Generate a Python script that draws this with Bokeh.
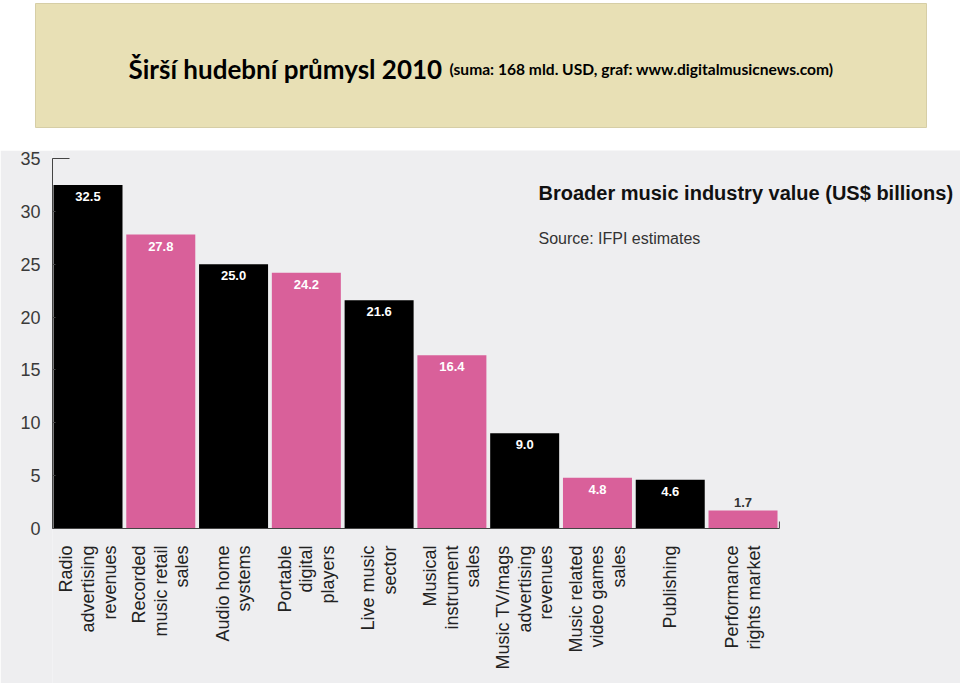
import math
from bokeh.plotting import figure
from bokeh.models import Range1d, FixedTicker, ColumnDataSource
from bokeh.layouts import column
from bokeh.embed import file_html
from bokeh.resources import INLINE
from bokeh.core.properties import value

# ---------------- data ----------------
categories = [
    "Radio\nadvertising\nrevenues",
    "Recorded\nmusic retail\nsales",
    "Audio home\nsystems",
    "Portable\ndigital\nplayers",
    "Live music\nsector",
    "Musical\ninstrument\nsales",
    "Music TV/mags\nadvertising\nrevenues",
    "Music related\nvideo games\nsales",
    "Publishing",
    "Performance\nrights market",
]
values = [32.5, 27.8, 25.0, 24.2, 21.6, 16.4, 9.0, 4.8, 4.6, 1.7]
y_ticks = [0, 5, 10, 15, 20, 25, 30, 35]
palette = ["#000000", "#D9609A"]

title_main = "Širší hudební průmysl 2010"
title_sub = "(suma: 168 mld. USD, graf: www.digitalmusicnews.com)"
chart_title = "Broader music industry value (US$ billions)"
chart_source = "Source: IFPI estimates"

# ---------------- layout constants ----------------
W = 960
H_TOP = 150
H_BOT = 533
LEFT = 52
PX_Y = 370.0 / 35.0          # pixels per unit on y
SLOT = 72.78                 # pixels per category slot
Y_TOP = 35 + 8 / PX_Y
Y_BOT = -(H_BOT - 378) / PX_Y
X_START = -35.5 / SLOT
X_END = X_START + (W - LEFT) / SLOT

def fx(page_x):
    return X_START + (page_x - LEFT) / SLOT

def fy(page_y):
    return Y_TOP - (page_y - H_TOP) / PX_Y

idx = list(range(len(categories)))
colors = [palette[i % 2] for i in idx]

# ---------------- title figure ----------------
BOX_W, BOX_H = 891, 124
t = figure(width=W, height=H_TOP, x_range=Range1d(0, BOX_W), y_range=Range1d(0, BOX_H),
           x_axis_location=None, y_axis_location=None,
           min_border_left=35, min_border_right=W - 35 - BOX_W, min_border_top=3,
           min_border_bottom=H_TOP - 3 - BOX_H,
           output_backend="svg", toolbar_location=None)
t.frame_align = False
t.grid.visible = False
t.background_fill_color = "#E8E0B5"
t.border_fill_color = "#FFFFFF"
t.outline_line_color = "#D6CEA6"
base_y = BOX_H - (68 - 3)
t.text(x=[128 - 35], y=[base_y], text=[title_main], text_font=value("Lato"),
       text_font_style="bold", text_font_size="26px", text_color="#000000",
       text_baseline="alphabetic", text_align="left")
t.text(x=[449 - 35], y=[base_y], text=[title_sub], text_font=value("Lato"),
       text_font_style="bold", text_font_size="15.6px", text_color="#000000",
       text_baseline="alphabetic", text_align="left")

# ---------------- chart figure ----------------
p = figure(width=W, height=H_BOT, x_range=Range1d(X_START, X_END), y_range=Range1d(Y_BOT, Y_TOP),
           x_axis_location=None, min_border_left=LEFT, min_border_right=0,
           min_border_top=0, min_border_bottom=0,
           output_backend="svg", toolbar_location=None)
p.frame_align = False
p.grid.visible = False
p.outline_line_color = None
p.background_fill_color = "#EEEEF0"
p.border_fill_color = "#EEEEF0"

ax = p.yaxis[0]
ax.ticker = FixedTicker(ticks=y_ticks)
ax.bounds = (min(y_ticks), max(y_ticks))
ax.axis_line_color = "#444444"
ax.major_tick_line_color = "#444444"
ax.major_tick_in = 3
ax.major_tick_out = 0
ax.minor_tick_line_color = None
ax.major_label_standoff = 12
ax.major_label_text_font = "Liberation Sans"
ax.major_label_text_font_size = "18px"
ax.major_label_text_color = "#3A3A3A"

# bars
src = ColumnDataSource(dict(x=idx, top=values, color=colors))
p.vbar(x="x", top="top", width=0.948, bottom=0, fill_color="color", line_color=None, source=src)

# axis decorations: baseline, top bracket, end tick
p.segment(x0=[min(idx) - 0.5], y0=[0], x1=[max(idx) + 0.5], y1=[0], line_color="#444444", line_width=1)
p.segment(x0=[max(idx) + 0.5], y0=[0], x1=[max(idx) + 0.5], y1=[7 / PX_Y], line_color="#444444", line_width=1)
p.segment(x0=[X_START], y0=[max(y_ticks)], x1=[X_START + 17 / SLOT], y1=[max(y_ticks)],
          line_color="#444444", line_width=1)

# value labels
inside = [i for i in idx if values[i] >= 3]
outside = [i for i in idx if values[i] < 3]
p.text(x=inside, y=[values[i] - 7 / PX_Y for i in inside],
       text=["%.1f" % values[i] for i in inside], text_color="#FFFFFF",
       text_font=value("Liberation Sans"), text_font_style="bold", text_font_size="13px",
       text_align="center", text_baseline="top")
p.text(x=outside, y=[values[i] + 4 / PX_Y for i in outside],
       text=["%.1f" % values[i] for i in outside], text_color="#333333",
       text_font=value("Liberation Sans"), text_font_style="bold", text_font_size="13px",
       text_align="center", text_baseline="bottom")

# category labels (rotated)
p.text(x=idx, y=[-17 / PX_Y] * len(idx), text=categories, angle=math.pi / 2,
       text_align="right", text_baseline="middle", text_color="#222222",
       text_font=value("Liberation Sans"), text_font_size="18px", text_line_height=1.08)

# chart heading
p.text(x=[fx(538)], y=[fy(192)], text=[chart_title], text_font=value("Liberation Sans"),
       text_font_style="bold", text_font_size="20px", text_color="#111111",
       text_align="left", text_baseline="alphabetic")
p.text(x=[fx(538)], y=[fy(238)], text=[chart_source], text_font=value("Liberation Sans"),
       text_font_size="16px", text_color="#333333",
       text_align="left", text_baseline="alphabetic")

layout = column(t, p)
open("out.html", "w").write(file_html(layout, INLINE))
